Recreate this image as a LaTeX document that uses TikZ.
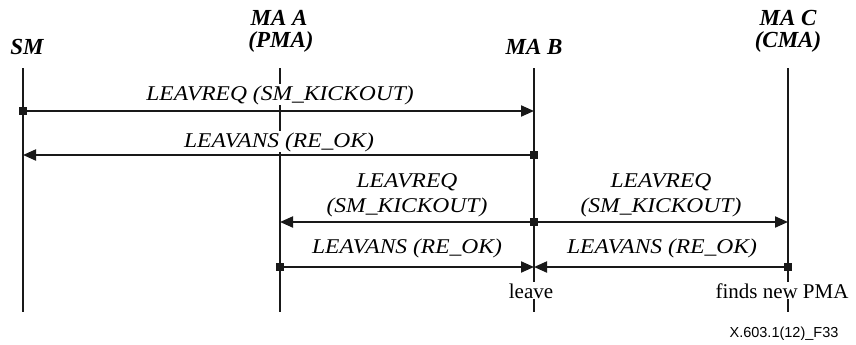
\documentclass[tikz,border=0pt]{standalone}
\usepackage{fontspec}
\setmainfont{Liberation Serif}
\newfontfamily\footfont{Liberation Sans}
\usetikzlibrary{arrows.meta}
\newcommand\widetxt[1]{\scalebox{1.12}[1]{#1}}
\begin{document}
\begin{tikzpicture}[x=1pt,y=-1pt,
  life/.style={line width=2pt, black!90},
  msg/.style={line width=2pt, black!90, -{Triangle[length=13pt,width=11pt]}},
  sq/.style={fill=black!90, minimum size=8pt, inner sep=0pt, draw=none},
  head/.style={font=\fontsize{23}{23}\selectfont\bfseries\itshape, anchor=base, inner sep=0pt},
  lbl/.style={font=\fontsize{21}{21}\selectfont\itshape, anchor=base, fill=white, inner sep=1pt},
  note/.style={font=\fontsize{21}{21}\selectfont, anchor=base, fill=white, inner sep=1pt},
  foot/.style={font=\footfont\fontsize{14.5}{14.5}\selectfont, anchor=base, inner sep=0pt}]
\useasboundingbox (0,0) rectangle (856,345);

% lifeline ends
\coordinate (smT) at (23,68);  \coordinate (smB) at (23,312);
\coordinate (maT) at (280,68); \coordinate (maB) at (280,312);
\coordinate (mbT) at (534,68); \coordinate (mbB) at (534,312);
\coordinate (mcT) at (788,68); \coordinate (mcB) at (788,312);

% headers
\node[head] (hsm) at (27,55) {SM};
\node[head] (hma1) at (279,26) {MA A};
\node[head] (hma2) at (281,48) {(PMA)};
\node[head] (hmb) at (534,55) {MA B};
\node[head] (hmc1) at (788,26) {MA C};
\node[head] (hmc2) at (788,48) {(CMA)};

% lifelines
\draw[life] (smT) -- (smB);
\draw[life] (maT) -- (maB);
\draw[life] (mbT) -- (mbB);
\draw[life] (mcT) -- (mcB);

% message end points
\coordinate (sm1) at (23,111);  \coordinate (mb1) at (534,111);
\coordinate (mb2) at (534,155); \coordinate (sm2) at (23,155);
\coordinate (ma3) at (280,222); \coordinate (mb3) at (534,222); \coordinate (mc3) at (788,222);
\coordinate (ma4) at (280,267); \coordinate (mb4) at (534,267); \coordinate (mc4) at (788,267);

% labels
\node[lbl] (l1) at (280,100) {\widetxt{LEAVREQ (SM\_KICKOUT)}};
\node[lbl] (l2) at (279,147) {\widetxt{LEAVANS (RE\_OK)}};
\node[lbl] (l3a) at (407,187) {\widetxt{LEAVREQ}};
\node[lbl] (l3b) at (407,212) {\widetxt{(SM\_KICKOUT)}};
\node[lbl] (l4a) at (661,187) {\widetxt{LEAVREQ}};
\node[lbl] (l4b) at (661,212) {\widetxt{(SM\_KICKOUT)}};
\node[lbl] (l5) at (407,253) {\widetxt{LEAVANS (RE\_OK)}};
\node[lbl] (l6) at (662,253) {\widetxt{LEAVANS (RE\_OK)}};

% messages
\draw[msg] (sm1) -- (mb1);
\draw[msg] (mb2) -- (sm2);
\draw[msg] (mb3) -- (ma3);
\draw[msg] (mb3) -- (mc3);
\draw[msg] (ma4) -- (mb4);
\draw[msg] (mc4) -- (mb4);

% start markers
\node[sq] (s1) at (sm1) {};
\node[sq] (s2) at (mb2) {};
\node[sq] (s3) at (mb3) {};
\node[sq] (s4) at (ma4) {};
\node[sq] (s5) at (mc4) {};

% notes
\node[note] (n1) at (531,298) {leave};
\node[note] (n2) at (782,298) {finds new PMA};
\node[foot] (ft) at (784,337) {X.603.1(12)\_F33};
\end{tikzpicture}
\end{document}
